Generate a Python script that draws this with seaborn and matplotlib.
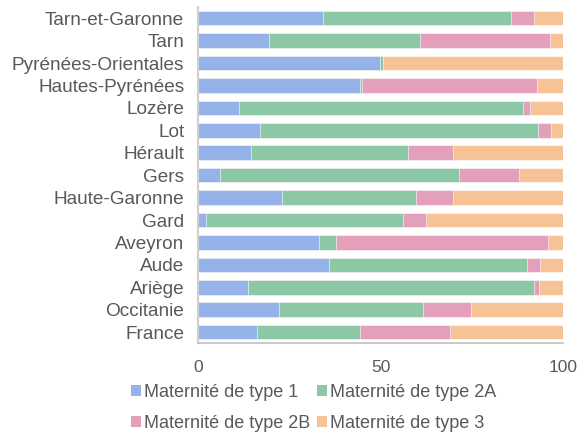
import numpy as np
import pandas as pd
import matplotlib
matplotlib.use("Agg")
import matplotlib.pyplot as plt
import seaborn as sns
from matplotlib.patches import Patch

# =============================================================================
# Data
# =============================================================================
regions = ['Tarn-et-Garonne', 'Tarn', 'Pyrénées-Orientales', 'Hautes-Pyrénées',
           'Lozère', 'Lot', 'Hérault', 'Gers', 'Haute-Garonne', 'Gard',
           'Aveyron', 'Aude', 'Ariège', 'Occitanie', 'France']
type_1 = [34.3, 19.5, 49.9, 44.3, 11.1, 17.1, 14.6, 6.1, 22.9, 2.3, 33.0, 35.9, 13.7, 22.1, 16.2]
type_2a = [51.4, 41.3, 0.8, 0.6, 78.0, 75.9, 43.0, 65.3, 36.7, 53.9, 4.7, 54.1, 78.3, 39.6, 28.2]
type_2b = [6.3, 35.6, 0.0, 48.0, 1.8, 3.7, 12.2, 16.6, 10.2, 6.3, 58.2, 3.6, 1.3, 13.0, 24.5]
type_3 = [8.0, 3.6, 49.3, 7.1, 9.1, 3.3, 30.2, 12.0, 30.2, 37.5, 4.1, 6.4, 6.7, 25.3, 31.1]

series_labels = ['Maternité de type 1', 'Maternité de type 2A',
                 'Maternité de type 2B', 'Maternité de type 3']
colors = ['#95b3e8', '#8cc8a6', '#e4a0ba', '#f6c396']

df = pd.DataFrame({'region': regions, 't1': type_1, 't2a': type_2a,
                   't2b': type_2b, 't3': type_3})
cum = df[['t1', 't2a', 't2b', 't3']].cumsum(axis=1)

# =============================================================================
# Plot
# =============================================================================
sns.set_style("white")
plt.rcParams['font.family'] = ['Liberation Sans', 'DejaVu Sans']

fig = plt.figure(figsize=(5.86, 4.33), dpi=100)
ax = fig.add_axes([0.338, 0.207, 0.623, 0.777])

# stacked bars: draw cumulative totals from the largest down
for col, color in zip(['t3', 't2b', 't2a', 't1'], colors[::-1]):
    sns.barplot(x=cum[col], y=df['region'], orient='h', color=color, saturation=1,
                width=0.65, edgecolor='white', linewidth=0.4, ax=ax)

ax.set_xlim(0, 100)
ax.set_xticks([0, 50, 100])
ax.set_xlabel('')
ax.set_ylabel('')
ax.tick_params(axis='x', labelsize=12.5, colors='#595959', length=0, pad=12)
ax.tick_params(axis='y', labelsize=13.7, colors='#595959', length=0, pad=10)

for s in ['top', 'right']:
    ax.spines[s].set_visible(False)
ax.spines['left'].set_color('#d0d0d0')
ax.spines['left'].set_linewidth(1.5)
ax.spines['bottom'].set_color('#c0c0c0')
ax.spines['bottom'].set_linewidth(1.2)

# legend fills row-wise in the reference (1, 2A / 2B, 3)
order = [0, 2, 1, 3]
handles = [Patch(facecolor=colors[i], edgecolor='none') for i in order]
labels = [series_labels[i] for i in order]
fig.legend(handles, labels, loc='upper center', bbox_to_anchor=(0.535, 0.113),
           ncol=2, frameon=False, fontsize=13, handlelength=0.55, handleheight=0.55,
           handletextpad=0.15, columnspacing=0.4, labelspacing=0.75,
           labelcolor='#595959', borderaxespad=0, borderpad=0)

plt.savefig('out.png', dpi=100)
plt.close()
